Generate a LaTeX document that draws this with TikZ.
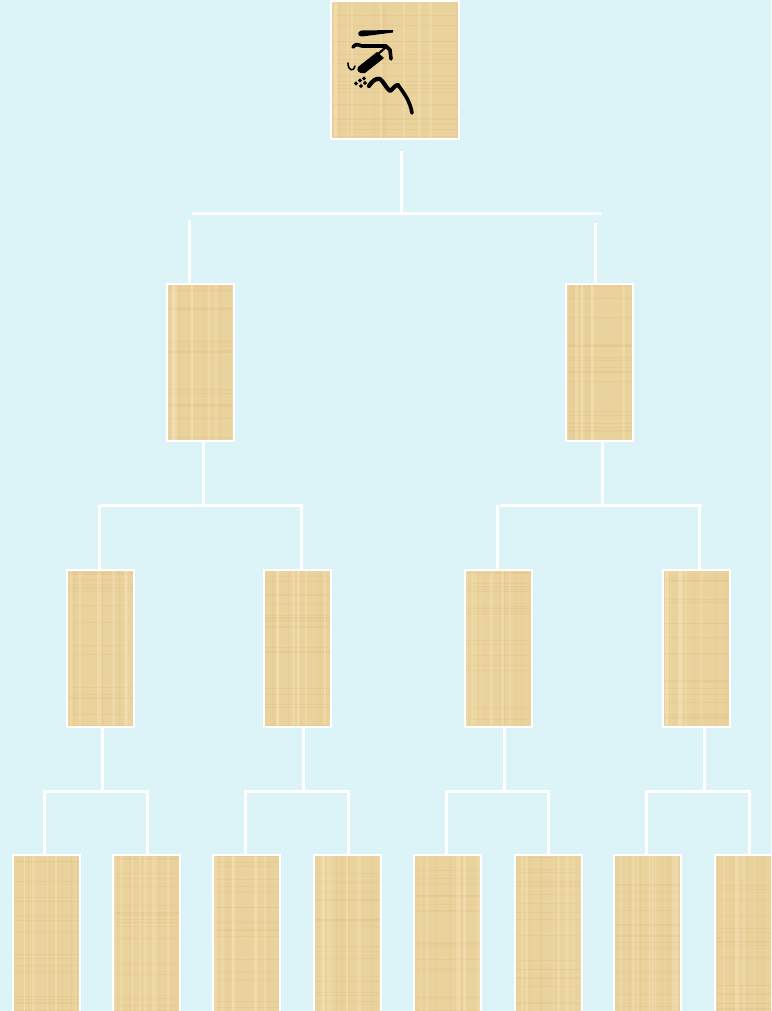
\documentclass[tikz,border=0pt]{standalone}
\usetikzlibrary{calc}
\definecolor{bgc}{RGB}{220,244,248}
\definecolor{pap}{RGB}{234,210,156}
\definecolor{papd}{RGB}{214,186,124}
\definecolor{papl}{RGB}{245,226,182}
\tikzset{
  x=1pt, y=-1pt,
  papbox/.style={draw=white, line width=2pt, fill=pap, inner sep=0pt,
    minimum width=67pt, minimum height=157pt,
    path picture={
      \foreach \i in {1,...,18}{
        \pgfmathsetmacro{\ya}{rnd}
        \pgfmathsetmacro{\lw}{0.4+rnd}
        \draw[papd, opacity=0.22, line width=\lw pt]
          ($(path picture bounding box.south west)!\ya!(path picture bounding box.north west)$) --
          ($(path picture bounding box.south east)!\ya!(path picture bounding box.north east)$);
      }
      \foreach \i in {1,...,8}{
        \pgfmathsetmacro{\xa}{rnd}
        \pgfmathsetmacro{\lw}{1+3*rnd}
        \draw[papl, opacity=0.4, line width=\lw pt]
          ($(path picture bounding box.south west)!\xa!(path picture bounding box.south east)$) --
          ($(path picture bounding box.north west)!\xa!(path picture bounding box.north east)$);
      }
      \foreach \i in {1,...,6}{
        \pgfmathsetmacro{\xa}{rnd}
        \draw[papd, opacity=0.18, line width=0.6pt]
          ($(path picture bounding box.south west)!\xa!(path picture bounding box.south east)$) --
          ($(path picture bounding box.north west)!\xa!(path picture bounding box.north east)$);
      }
    }},
  conn/.style={draw=white, line width=3pt},
  glyph/.style={draw=black, line cap=round, line join=round}
}
\begin{document}
\begin{tikzpicture}
\pgfmathsetseed{42}
\useasboundingbox (0,0) rectangle (771,1011);
\fill[bgc] (0,0) rectangle (771,1011);
\begin{scope}
\clip (0,0) rectangle (771,1011);
% level 1
\node[papbox, minimum width=128pt, minimum height=138pt] (top) at (395,70) {};
% level 2
\node[papbox] (la) at (200.5,362.5) {};
\node[papbox] (lb) at (599,362.5) {};
% level 3
\node[papbox] (ma) at (100.5,648) {};
\node[papbox] (mb) at (297.5,648) {};
\node[papbox] (mc) at (498.5,648) {};
\node[papbox] (md) at (696.5,648) {};
% level 4
\node[papbox] (na) at (46,933) {};
\node[papbox] (nb) at (146.5,933) {};
\node[papbox] (nc) at (246.5,933) {};
\node[papbox] (nd) at (347.5,933) {};
\node[papbox] (ne) at (447.5,933) {};
\node[papbox] (nf) at (548.5,933) {};
\node[papbox] (ng) at (647.5,933) {};
\node[papbox] (nh) at (748.5,933) {};

% connectors: top -> level 2
\coordinate (t0) at (401,213);
\draw[conn] (t0 |- top.south) ++(0,11) -- (t0);
\draw[conn] (192,213) coordinate (tl) -- (601,213) coordinate (tr);
\coordinate (ta) at (189,220);
\coordinate (tb) at (595,223);
\draw[conn] (ta) -- (ta |- la.north);
\draw[conn] (tb) -- (tb |- lb.north);

% level 2 -> level 3
\coordinate (a0) at (203,505);
\draw[conn] (a0 |- la.south) -- (a0);
\draw[conn] (101,505) -- (303,505);
\coordinate (a1) at (99,505);
\coordinate (a2) at (301,505);
\draw[conn] (a1) -- (a1 |- ma.north);
\draw[conn] (a2) -- (a2 |- mb.north);

\coordinate (b0) at (602,505);
\draw[conn] (b0 |- lb.south) -- (b0);
\draw[conn] (500,505) -- (702,505);
\coordinate (b1) at (497,505);
\coordinate (b2) at (699,505);
\draw[conn] (b1) -- (b1 |- mc.north);
\draw[conn] (b2) -- (b2 |- md.north);

% level 3 -> level 4
\coordinate (c0) at (102,791);
\draw[conn] (c0 |- ma.south) -- (c0);
\draw[conn] (na.north -| 44,0) |- (c0 -| 44,0) -| (nb.north -| 147,0);
\coordinate (d0) at (303,791);
\draw[conn] (d0 |- mb.south) -- (d0);
\draw[conn] (nc.north -| 245,0) |- (d0 -| 245,0) -| (nd.north -| 348,0);
\coordinate (e0) at (504,791);
\draw[conn] (e0 |- mc.south) -- (e0);
\draw[conn] (ne.north -| 446,0) |- (e0 -| 446,0) -| (nf.north -| 548,0);
\coordinate (f0) at (704,791);
\draw[conn] (f0 |- md.south) -- (f0);
\draw[conn] (ng.north -| 646,0) |- (f0 -| 646,0) -| (nh.north -| 749,0);

% glyph in the top box
\fill[black] (360,31) .. controls (357,33) and (358,36.5) .. (362,36.5) -- (393,32.5) -- (393,30) -- (362,30.5) -- cycle;
\draw[glyph, line width=3.6pt] (353,47) .. controls (356,44) .. (362,46) -- (386,46) -- (390,50) -- (391,59);
\draw[glyph, line width=2.2pt] (386,47) -- (377,55);
\fill[black] (377,52) -- (384,58) -- (365,73) .. controls (359,74) and (356,71) .. (358,67) -- cycle;
\draw[glyph, line width=1.6pt] (348,63) .. controls (348,71) and (354,72) .. (355,66);
\foreach \p in {(356,83.5),(360,80.5),(364,78.5),(365,83),(361,86)}
  \fill[black] \p ++(-2.1,0) -- ++(2.1,-2.1) -- ++(2.1,2.1) -- ++(-2.1,2.1) -- cycle;
\draw[glyph, line width=4.2pt] (369,86) .. controls (372,81) and (376,78) .. (380,79)
  .. controls (384,82) and (386,88) .. (390,91) .. controls (393,89) and (395,85) .. (398,85);
\draw[glyph, line width=3.6pt] (398,85) .. controls (404,93) and (410,101) .. (412,113);
\end{scope}
\end{tikzpicture}
\end{document}
